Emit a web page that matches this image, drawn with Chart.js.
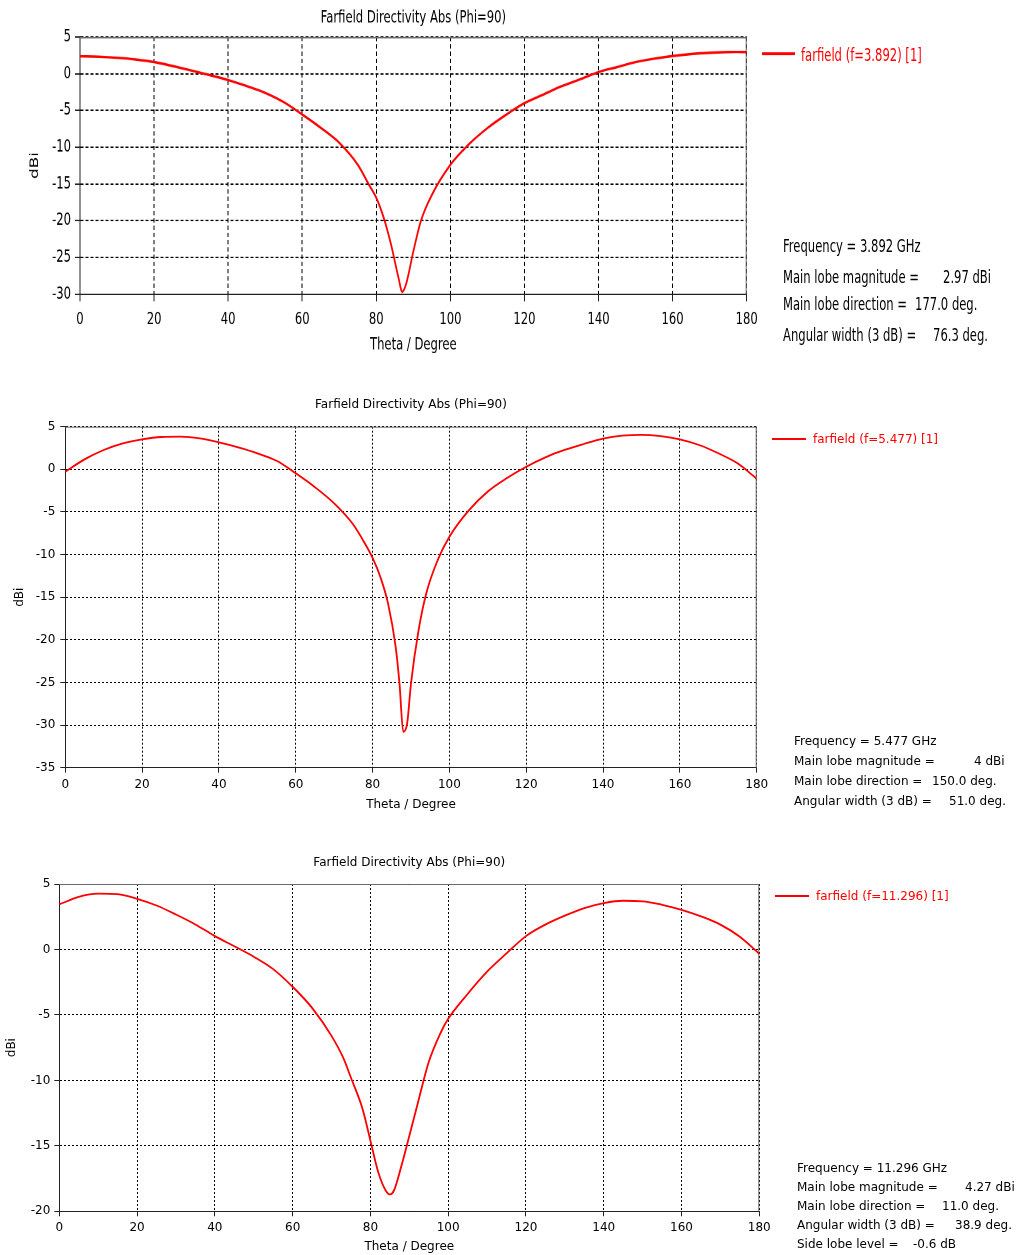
<!DOCTYPE html>
<html lang="en">
<head>
<meta charset="utf-8">
<title>Farfield Directivity Abs (Phi=90)</title>
<script src="https://cdn.jsdelivr.net/npm/chart.js@4.4.1/dist/chart.umd.min.js"></script>
<style>
  html, body { margin: 0; padding: 0; background: #fff; overflow: hidden; }
  body { width: 1019px; height: 1255px; position: relative; font-family: 'DejaVu Sans', sans-serif; }
  .panel { position: absolute; left: 0; width: 1019px; transform-origin: 0 0; }
  .panel canvas { position: absolute; left: 0; top: 0; }
  .txt { position: absolute; white-space: pre; line-height: 14px; color: #000; }
  .lg { color: #ff0000; }
  .lg-line { position: absolute; background: #ff0000; }
</style>
</head>
<body>

<!-- top plot: the source image is stretched vertically, so this panel is scaled too -->
<div class="panel" style="top:0;height:252px;transform:scaleY(1.4502);font-size:11.6px">
  <canvas id="c1" width="1019" height="252"></canvas>
  <div class="lg-line" style="left:762px;top:36px;width:33px;height:1.5px"></div>
  <div class="txt lg" style="left:801px;top:31px">farfield (f=3.892) [1]</div>
  <div class="txt" style="left:783px;top:163px">Frequency = 3.892 GHz</div>
  <div class="txt" style="left:783px;top:184px">Main lobe magnitude =</div>
  <div class="txt" style="left:943px;top:184px">2.97 dBi</div>
  <div class="txt" style="left:783px;top:203px">Main lobe direction =</div>
  <div class="txt" style="left:915px;top:203px">177.0 deg.</div>
  <div class="txt" style="left:783px;top:224px">Angular width (3 dB) =</div>
  <div class="txt" style="left:933px;top:224px">76.3 deg.</div>
</div>

<div class="panel" style="top:380px;height:450px;font-size:12px">
  <canvas id="c2" width="1019" height="450"></canvas>
  <div class="lg-line" style="left:772px;top:58px;width:34px;height:2px"></div>
  <div class="txt lg" style="left:813px;top:52px">farfield (f=5.477) [1]</div>
  <div class="txt" style="left:794px;top:354px">Frequency = 5.477 GHz</div>
  <div class="txt" style="left:794px;top:374px">Main lobe magnitude =</div>
  <div class="txt" style="left:974px;top:374px">4 dBi</div>
  <div class="txt" style="left:794px;top:394px">Main lobe direction =</div>
  <div class="txt" style="left:932px;top:394px">150.0 deg.</div>
  <div class="txt" style="left:794px;top:414px">Angular width (3 dB) =</div>
  <div class="txt" style="left:949px;top:414px">51.0 deg.</div>
</div>

<div class="panel" style="top:840px;height:415px;font-size:12px">
  <canvas id="c3" width="1019" height="415"></canvas>
  <div class="lg-line" style="left:775px;top:55px;width:34px;height:2px"></div>
  <div class="txt lg" style="left:816px;top:49px">farfield (f=11.296) [1]</div>
  <div class="txt" style="left:797px;top:321px">Frequency = 11.296 GHz</div>
  <div class="txt" style="left:797px;top:340px">Main lobe magnitude =</div>
  <div class="txt" style="left:965px;top:340px">4.27 dBi</div>
  <div class="txt" style="left:797px;top:359px">Main lobe direction =</div>
  <div class="txt" style="left:942px;top:359px">11.0 deg.</div>
  <div class="txt" style="left:797px;top:378px">Angular width (3 dB) =</div>
  <div class="txt" style="left:955px;top:378px">38.9 deg.</div>
  <div class="txt" style="left:797px;top:397px">Side lobe level =</div>
  <div class="txt" style="left:913px;top:397px">-0.6 dB</div>
</div>

<script>
// f = 3.892 GHz
const theta1 = [0, 5, 10, 15, 20, 25, 30, 35, 40, 45, 50, 55, 60, 65, 70, 75, 78, 80, 82, 84, 86, 87, 88, 90, 92, 95,
  100, 105, 110, 115, 120, 125, 130, 135, 140, 145, 150, 155, 160, 165, 170, 175, 177, 180];
const dbi1 = [2.38, 2.32, 2.18, 1.95, 1.6, 1.05, 0.45, -0.18, -0.86, -1.68, -2.6, -3.86, -5.55, -7.36, -9.4, -12.4,
  -15.1, -16.9, -19.6, -23.3, -27.8, -29.7, -28.7, -24.2, -20.1, -16.5, -12.4, -9.6, -7.4, -5.6, -4.0, -2.85, -1.7,
  -0.77, 0.23, 0.91, 1.59, 2.05, 2.41, 2.68, 2.85, 2.95, 2.97, 2.96];

// f = 5.477 GHz
const theta2 = [0, 5, 10, 15, 20, 25, 30, 35, 40, 45, 50, 55, 60, 65, 70, 75, 78, 80, 82, 84, 86, 87, 88, 89, 90, 92,
  94, 97, 100, 105, 110, 115, 120, 125, 130, 135, 140, 145, 150, 155, 160, 165, 170, 175, 180];
const dbi2 = [-0.27, 1.17, 2.27, 3.05, 3.52, 3.79, 3.83, 3.63, 3.16, 2.58, 1.88, 1.0, -0.47, -2.1, -4.0, -6.5, -8.7,
  -10.4, -12.6, -15.7, -20.8, -25.1, -30.8, -29.8, -25.1, -18.8, -14.5, -10.6, -7.9, -4.84, -2.6, -1.02, 0.3, 1.41,
  2.27, 2.97, 3.6, 3.95, 4.05, 3.9, 3.52, 2.85, 1.88, 0.7, -1.1];

// f = 11.296 GHz
const theta3 = [0, 5, 10, 15, 20, 25, 30, 35, 40, 45, 50, 55, 60, 65, 70, 73, 75, 78, 80, 82, 84, 85, 86, 88, 90, 92,
  95, 98, 100, 105, 110, 115, 120, 125, 130, 135, 140, 145, 150, 155, 160, 165, 170, 175, 180];
const dbi3 = [3.44, 4.02, 4.26, 4.22, 3.87, 3.36, 2.67, 1.91, 1.02, 0.25, -0.55, -1.5, -2.85, -4.46, -6.6, -8.27,
  -9.8, -12.2, -14.6, -17.0, -18.45, -18.7, -18.45, -16.5, -14.25, -11.96, -8.6, -6.4, -5.3, -3.4, -1.7, -0.3,
  1.02, 1.9, 2.58, 3.16, 3.54, 3.72, 3.68, 3.41, 3.03, 2.53, 1.9, 0.97, -0.33];

const yRange1 = [-30, 5];
const yRange2 = [-35, 5];
const yRange3 = [-20, 5];

// top & right edges of the plot box (left/bottom come from the axis borders)
const frameBox = {
  id: 'frameBox',
  beforeDatasetsDraw(chart) {
    const { ctx, chartArea: a } = chart;
    ctx.save();
    ctx.strokeStyle = '#6a6a6a';
    ctx.lineWidth = 1;
    ctx.beginPath();
    ctx.moveTo(a.left, a.top + 0.5);
    ctx.lineTo(a.right, a.top + 0.5);
    ctx.moveTo(a.right - 0.5, a.top);
    ctx.lineTo(a.right - 0.5, a.bottom);
    ctx.stroke();
    ctx.restore();
  }
};

function farfieldChart(id, theta, dbi, yRange, L) {
  const font = { family: 'DejaVu Sans', size: L.font, weight: 'normal' };
  const axisCommon = {
    grid: { color: '#000', lineWidth: 1, tickLength: 5, tickColor: '#222', tickBorderDash: [] },
    border: { color: '#222', width: 1, dash: L.dash }
  };
  return new Chart(document.getElementById(id), {
    type: 'line',
    data: {
      datasets: [{
        data: theta.map((t, i) => ({ x: t, y: dbi[i] })),
        borderColor: '#ff0000',
        borderWidth: L.lw,
        pointRadius: 0,
        cubicInterpolationMode: 'monotone',
        fill: false
      }]
    },
    options: {
      responsive: false,
      animation: false,
      devicePixelRatio: L.dpr,
      layout: { padding: { left: L.padLeft, right: L.padRight, top: 0, bottom: L.padBottom } },
      plugins: {
        legend: { display: false },
        tooltip: { enabled: false },
        title: {
          display: true,
          text: 'Farfield Directivity Abs (Phi=90)',
          color: '#000',
          font,
          fullSize: false,
          padding: { top: L.titleTop, bottom: L.titleBottom }
        }
      },
      scales: {
        x: {
          type: 'linear',
          min: 0,
          max: 180,
          ...axisCommon,
          ticks: { stepSize: 20, color: '#000', font, padding: L.xTickPad, maxRotation: 0, autoSkip: false },
          title: { display: true, text: 'Theta / Degree', color: '#000', font, padding: 0 },
          afterFit: s => { s.height = L.xHeight; }
        },
        y: {
          min: yRange[0],
          max: yRange[1],
          ...axisCommon,
          ticks: { stepSize: 5, color: '#000', font, padding: L.yTickPad },
          title: { display: true, text: 'dBi', color: '#000', font, padding: 0 },
          afterFit: s => { s.width = L.yWidth; }
        }
      }
    },
    plugins: [frameBox]
  });
}

farfieldChart('c1', theta1, dbi1, yRange1, {
  font: 11.6, lw: 1.7, dpr: 2, dash: [3, 2],
  padLeft: 28, yWidth: 52, padRight: 272.3,
  titleTop: 5.4, titleBottom: 6.2,
  xHeight: 42.1, padBottom: 7.14, xTickPad: 5.8, yTickPad: 4
});

farfieldChart('c2', theta2, dbi2, yRange2, {
  font: 12, lw: 1.8, dpr: 1, dash: [2, 2],
  padLeft: 12.8, yWidth: 52.5, padRight: 262.3,
  titleTop: 17.8, titleBottom: 14.5,
  xHeight: 44.5, padBottom: 17.8, xTickPad: 5.1, yTickPad: 5
});

farfieldChart('c3', theta3, dbi3, yRange3, {
  font: 12, lw: 1.8, dpr: 1, dash: [2, 2],
  padLeft: 4.5, yWidth: 54.8, padRight: 259.7,
  titleTop: 16.1, titleBottom: 13.5,
  xHeight: 43.2, padBottom: 0.5, xTickPad: 4.2, yTickPad: 4
});
</script>
</body>
</html>
